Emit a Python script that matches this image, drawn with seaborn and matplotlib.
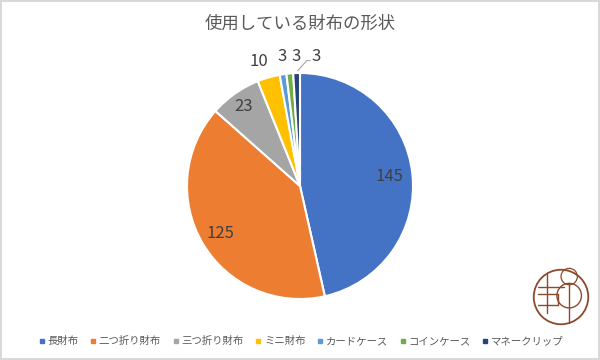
import numpy as np
import matplotlib
matplotlib.use("Agg")
import matplotlib.pyplot as plt
from matplotlib.lines import Line2D
from matplotlib.patches import Circle
import seaborn as sns

title = "使用している財布の形状"
categories = ["長財布", "二つ折り財布", "三つ折り財布", "ミニ財布", "カードケース", "コインケース", "マネークリップ"]
counts = [145, 125, 23, 10, 3, 3, 3]
colors = ["#4472C4", "#ED7D31", "#A5A5A5", "#FFC000", "#5B9BD5", "#70AD47", "#264478"]

sns.set_theme(style="white")
plt.rcParams["font.family"] = ["Noto Sans CJK JP", "DejaVu Sans"]

fig = plt.figure(figsize=(6, 3.6), dpi=100)
fig.patch.set_edgecolor("#D9D9D9")
fig.patch.set_linewidth(1.5)

# square axes holding the pie
ax = fig.add_axes([187 / 600, 61 / 360, 226 / 600, 226 / 360])
wedges, _ = ax.pie(counts, colors=colors, startangle=90, counterclock=False,
                   radius=1, wedgeprops=dict(edgecolor="white", linewidth=1.5))
ax.set_xlim(-1, 1)
ax.set_ylim(-1, 1)
ax.set_aspect("equal")
ax.axis("off")

# label distance per slice (inside for big slices, outside for small)
label_r = [0.8, 0.82, 0.86, 1.15, 1.16, 1.15, 1.15]
label_shift = [0, 0, 0, -0.04, 0.02, 0.07, 0.18]
for w, n, r, s in zip(wedges, counts, label_r, label_shift):
    ang = np.deg2rad((w.theta1 + w.theta2) / 2)
    x, y = r * np.cos(ang) + s, r * np.sin(ang)
    ax.text(x, y, str(n), ha="center", va="center", fontsize=12, color="#404040")
# leader line for the last slice
w = wedges[-1]
ang = np.deg2rad((w.theta1 + w.theta2) / 2)
ax.plot([np.cos(ang) + 0.01, 0.06, 0.09], [np.sin(ang) + 0.02, 1.11, 1.11],
        color="#A6A6A6", lw=0.8, clip_on=False)

fig.text(0.5, 0.935, title, ha="center", va="center", fontsize=12.5, color="#595959")

handles = [Line2D([], [], marker="s", linestyle="", markersize=3.5, color=c) for c in colors]
fig.legend(handles, categories, loc="center", bbox_to_anchor=(0.5, 0.052), ncol=7,
           frameon=False, fontsize=7.5, handletextpad=0.05, columnspacing=0.9,
           labelcolor="#595959", handlelength=1.0)

# small round emblem in the corner
brown = "#8B4A2B"
logo = fig.add_axes([531 / 600, 33 / 360, 60 / 600, 60 / 360])
logo.add_patch(Circle((0, 0), 1, fill=False, edgecolor=brown, lw=1.3))
logo.add_patch(Circle((0.3, 0.05), 0.45, fill=False, edgecolor=brown, lw=1.0))
logo.add_patch(Circle((0.3, 0.75), 0.3, fill=False, edgecolor=brown, lw=0.9))
logo.plot([-0.5, -0.5], [0.85, -0.6], color=brown, lw=1.0)
logo.plot([-0.85, 0.1], [0.35, 0.35], color=brown, lw=1.0)
logo.plot([-0.85, -0.1, -0.1, -0.85], [0.1, 0.1, -0.3, -0.3], color=brown, lw=1.0)
logo.plot([0.3, 0.3], [0.5, -0.95], color=brown, lw=1.0)
logo.set_xlim(-1.1, 1.1)
logo.set_ylim(-1.1, 1.1)
logo.set_aspect("equal")
logo.axis("off")

fig.savefig("out.png", dpi=100, edgecolor=fig.get_edgecolor())
